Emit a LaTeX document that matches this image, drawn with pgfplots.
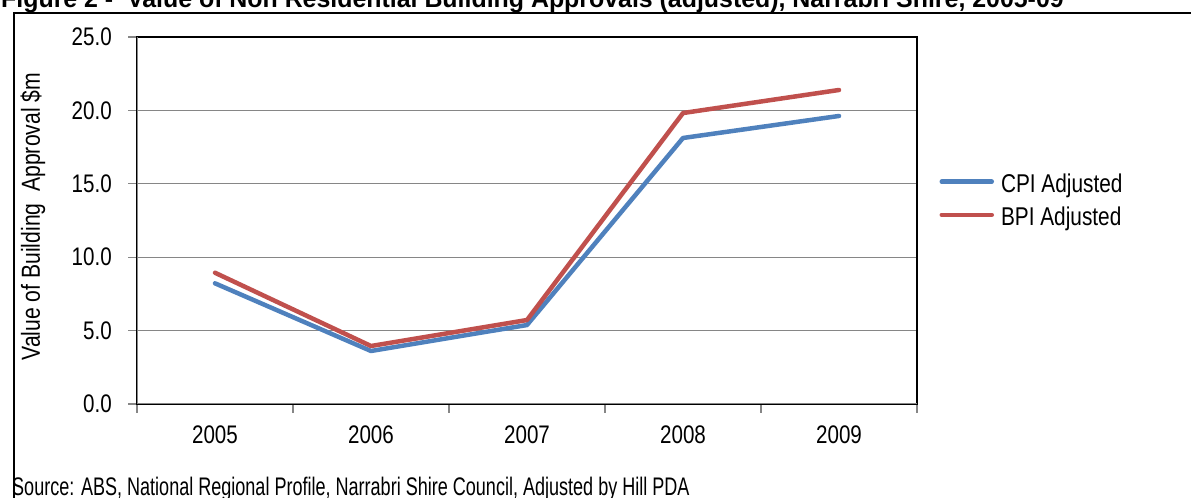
\documentclass[border=0pt]{standalone}
\usepackage{fontspec}
\setmainfont{Liberation Sans}[FakeStretch=0.81]
\newfontfamily\srcfont{Liberation Sans}[FakeStretch=0.71]
\newfontfamily\titlefont{Liberation Sans}[FakeStretch=0.98]
\usepackage{pgfplots}
\pgfplotsset{compat=1.18}
\definecolor{cpiblue}{HTML}{4F81BD}
\definecolor{bpired}{HTML}{C0504D}
\definecolor{gridgray}{HTML}{868686}
\begin{document}
\begin{tikzpicture}[x=1bp,y=1bp]
\useasboundingbox (0,0) rectangle (1191,498);
\node[anchor=base west, inner sep=0pt, font=\titlefont\bfseries\fontsize{25.5}{30}\selectfont] at (1,490.5) {Figure 2 -~ Value of Non Residential Building Approvals (adjusted), Narrabri Shire, 2005-09};
\begin{axis}[
  at={(137bp,94bp)}, anchor=south west,
  scale only axis, width=780bp, height=367bp,
  xmin=-0.5, xmax=4.5, ymin=0, ymax=25,
  /pgf/number format/assume math mode=true,
  xtick={-0.5,0.5,1.5,2.5,3.5,4.5}, xticklabels={},
  extra x ticks={0,1,2,3,4},
  extra x tick labels={2005,2006,2007,2008,2009},
  extra x tick style={major tick length=0pt, grid=none,
    xticklabel style={anchor=north, inner sep=0pt, yshift=-22bp}},
  ytick={0,5,10,15,20,25},
  yticklabels={0.0,5.0,10.0,15.0,20.0,25.0},
  yticklabel style={anchor=east, inner sep=0pt, xshift=-16bp},
  tick label style={font=\fontsize{25.5}{30}\selectfont, black},
  tick align=outside, tick pos=left,
  major tick length=9bp,
  tick style={gridgray, line width=1.2bp},
  ymajorgrids,
  major grid style={gridgray, line width=1.2bp},
  axis line style={black, line width=1.4bp},
  ylabel={Value of Building~ Approval \$m},
  ylabel style={at={(axis description cs:-0.1244,0.5104)}, anchor=base, font=\fontsize{26.2}{30}\selectfont},
  legend style={at={(axis description cs:1.0286,0.5537)}, anchor=west, draw=none, fill=none,
    inner sep=0pt, row sep=9bp, column sep=5bp,
    font=\fontsize{25.8}{30}\selectfont, nodes={inner sep=2bp}},
  legend cell align=left,
  legend image code/.code={\draw[#1, line cap=round] (0bp,2.5bp) -- (50bp,2.5bp);},
]
\addplot[cpiblue, line width=4.5bp, line join=round, line cap=round]
  coordinates {(0,8.22) (1,3.61) (2,5.38) (3,18.12) (4,19.62)};
\addlegendentry{CPI Adjusted}
\addplot[bpired, line width=4.5bp, line join=round, line cap=round]
  coordinates {(0,8.94) (1,3.95) (2,5.72) (3,19.82) (4,21.39)};
\addlegendentry{BPI Adjusted}
\draw[gridgray, line width=1.4bp] (rel axis cs:0,0) -- (rel axis cs:0,1);
\draw[gridgray, line width=1.4bp] (rel axis cs:0,0) -- (rel axis cs:1,0);
\end{axis}
\node[anchor=base west, inner sep=0pt, font=\srcfont\fontsize{25.5}{30}\selectfont] at (12,2.5) {Source: ABS, National Regional Profile, Narrabri Shire Council, Adjusted by Hill PDA};
\draw[line width=2bp] (14,0) -- (14,485) -- (1191,485);
\end{tikzpicture}
\end{document}
